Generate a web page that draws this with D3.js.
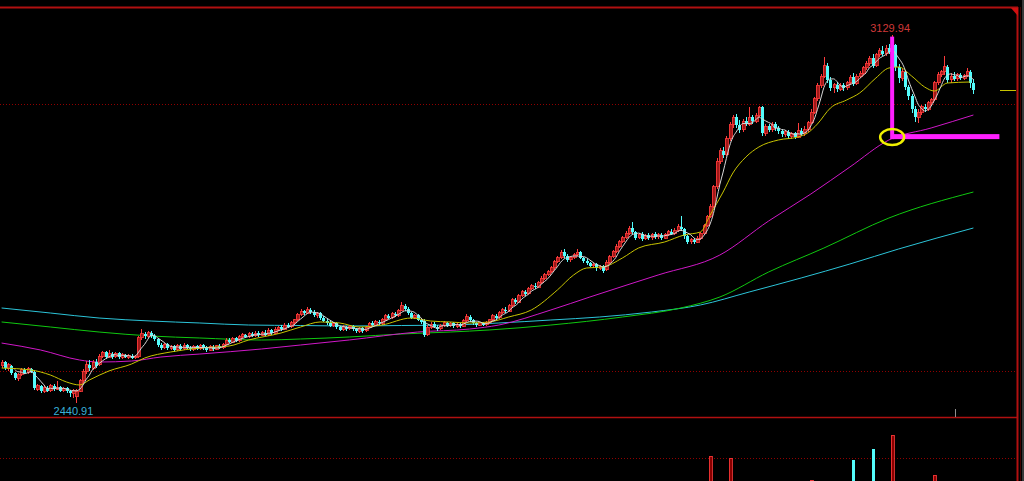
<!DOCTYPE html>
<html><head><meta charset="utf-8">
<script src="https://cdn.jsdelivr.net/npm/d3@7"></script>
<style>html,body{margin:0;padding:0;background:#000;overflow:hidden}</style>
</head><body>
<svg id="c" width="1024" height="481"></svg>
<script>
// ---- data (price units, candle index 0..299) ----
const open = [
2510,2516,2505,2510,2496,2486,2494,2502,2497,2504,
2499,2466,2471,2462,2469,2463,2472,2466,2470,2463,
2468,2462,2458,2452,2462,2482,2500,2512,2505,2516,
2512,2528,2535,2526,2532,2527,2533,2526,2530,2526,
2529,2525,2527,2562,2570,2565,2572,2566,2560,2548,
2544,2550,2543,2546,2540,2547,2542,2548,2544,2541,
2546,2542,2548,2543,2539,2545,2541,2547,2544,2550,
2558,2554,2561,2557,2564,2568,2564,2570,2566,2571,
2567,2572,2568,2576,2571,2578,2582,2578,2586,2583,
2590,2596,2606,2612,2608,2615,2611,2604,2608,2600,
2594,2590,2585,2589,2582,2577,2583,2579,2584,2578,
2574,2580,2575,2582,2589,2586,2592,2589,2597,2603,
2600,2607,2604,2614,2622,2616,2608,2600,2604,2596,
2594,2568,2582,2588,2583,2579,2585,2590,2585,2589,
2584,2588,2584,2594,2602,2596,2589,2586,2590,2587,
2591,2596,2603,2600,2609,2615,2612,2622,2633,2629,
2641,2648,2645,2654,2660,2657,2666,2674,2680,2686,
2693,2705,2712,2722,2716,2708,2713,2718,2722,2712,
2706,2702,2697,2700,2692,2696,2690,2704,2714,2724,
2733,2742,2750,2758,2767,2760,2750,2756,2748,2754,
2750,2756,2751,2755,2749,2756,2761,2757,2763,2770,
2766,2752,2742,2746,2741,2749,2758,2772,2790,2808,
2845,2893,2912,2905,2935,2962,2975,2960,2952,2968,
2962,2975,2968,2978,2994,2945,2958,2952,2962,2955,
2949,2943,2948,2940,2945,2938,2950,2944,2952,2965,
2985,3010,3035,3052,3072,3045,3030,3036,3028,3035,
3030,3040,3050,3038,3052,3058,3068,3076,3086,3072,
3092,3100,3094,3104,3098,3110,3070,3048,3060,3032,
3015,2990,2975,2985,2995,2990,3002,3008,3040,3055,
3060,3070,3045,3052,3047,3055,3048,3053,3060,3040];
const close = [
2516,2505,2512,2496,2486,2494,2502,2497,2504,2499,
2468,2472,2462,2470,2463,2472,2466,2470,2463,2468,
2462,2458,2464,2462,2482,2500,2512,2505,2516,2510,
2528,2535,2526,2532,2527,2533,2526,2530,2526,2529,
2525,2528,2562,2570,2565,2572,2566,2560,2548,2544,
2550,2543,2546,2540,2547,2542,2548,2544,2541,2546,
2542,2548,2543,2539,2545,2541,2547,2544,2550,2558,
2554,2561,2557,2564,2568,2564,2570,2566,2571,2567,
2572,2568,2576,2571,2578,2582,2578,2586,2583,2590,
2596,2606,2612,2608,2615,2611,2604,2608,2600,2594,
2590,2585,2589,2582,2577,2583,2579,2584,2578,2574,
2580,2575,2582,2589,2586,2592,2589,2597,2603,2600,
2607,2604,2614,2622,2616,2608,2600,2604,2596,2592,
2568,2582,2588,2583,2579,2585,2590,2585,2589,2584,
2588,2584,2594,2602,2596,2589,2586,2590,2587,2591,
2596,2603,2600,2609,2615,2612,2622,2633,2629,2641,
2648,2645,2654,2660,2657,2666,2674,2680,2686,2693,
2705,2712,2722,2716,2708,2713,2718,2722,2712,2706,
2702,2697,2700,2692,2696,2688,2704,2714,2724,2733,
2742,2750,2758,2767,2760,2750,2756,2748,2754,2750,
2756,2751,2755,2749,2756,2761,2757,2763,2770,2766,
2752,2742,2746,2741,2749,2758,2772,2790,2808,2845,
2893,2912,2905,2935,2962,2975,2960,2952,2968,2962,
2975,2968,2978,2994,2945,2958,2952,2962,2955,2949,
2943,2948,2940,2945,2938,2950,2944,2952,2965,2985,
3010,3035,3052,3072,3045,3030,3036,3028,3035,3030,
3040,3050,3038,3052,3058,3068,3076,3086,3072,3092,
3100,3094,3104,3098,3110,3070,3048,3060,3032,3015,
2990,2975,2985,2995,2990,3002,3008,3040,3055,3060,
3070,3045,3052,3047,3055,3048,3053,3060,3040,3026];
const high = [
2520,2518,2515,2512,2498,2497,2505,2506,2507,2506,
2501,2476,2474,2473,2472,2475,2476,2482,2472,2470,
2470,2465,2467,2466,2485,2503,2518,2520,2520,2522,
2532,2538,2537,2540,2535,2536,2536,2533,2532,2531,
2531,2530,2565,2578,2573,2575,2574,2570,2562,2552,
2553,2552,2549,2548,2551,2550,2552,2551,2547,2549,
2549,2550,2550,2546,2548,2548,2549,2550,2553,2561,
2562,2564,2564,2567,2571,2570,2573,2573,2574,2574,
2575,2576,2580,2579,2582,2585,2586,2590,2590,2594,
2598,2609,2616,2615,2620,2618,2614,2611,2610,2603,
2597,2593,2592,2591,2585,2586,2585,2587,2586,2581,
2583,2582,2585,2592,2593,2595,2596,2600,2606,2607,
2610,2611,2617,2629,2625,2619,2610,2607,2606,2599,
2597,2586,2592,2592,2586,2588,2593,2592,2591,2591,
2590,2590,2597,2607,2604,2598,2591,2592,2592,2594,
2598,2606,2607,2612,2618,2619,2625,2636,2637,2645,
2651,2652,2657,2663,2664,2669,2677,2684,2690,2697,
2708,2716,2726,2728,2720,2716,2721,2728,2724,2714,
2709,2705,2703,2702,2699,2698,2707,2717,2727,2737,
2746,2753,2762,2771,2779,2763,2759,2760,2757,2758,
2759,2760,2758,2758,2759,2764,2765,2767,2775,2790,
2768,2755,2749,2750,2752,2761,2775,2793,2812,2849,
2898,2918,2920,2940,2966,2980,2982,2970,2972,2975,
2994,2980,2983,2997,2996,2962,2963,2966,2966,2958,
2953,2952,2951,2948,2948,2965,2955,2958,2968,2990,
3014,3040,3056,3088,3076,3050,3040,3042,3040,3040,
3044,3054,3058,3056,3062,3072,3080,3090,3094,3096,
3105,3108,3110,3112,3129.94,3112,3075,3065,3063,3036,
3018,2996,2990,2998,3000,3006,3012,3044,3060,3064,
3090,3073,3058,3060,3058,3058,3056,3068,3063,3046];
const low = [
2506,2502,2500,2492,2483,2482,2490,2494,2495,2496,
2465,2462,2459,2458,2460,2461,2463,2464,2460,2461,
2458,2452,2450,2440.91,2460,2478,2495,2500,2502,2506,
2510,2524,2522,2524,2523,2525,2522,2523,2524,2523,
2522,2522,2525,2558,2560,2562,2562,2556,2545,2540,
2541,2540,2539,2536,2538,2538,2540,2541,2537,2538,
2539,2540,2540,2536,2537,2538,2539,2541,2542,2548,
2552,2552,2554,2555,2561,2561,2562,2563,2564,2564,
2565,2565,2566,2568,2569,2575,2575,2576,2580,2581,
2587,2594,2603,2604,2606,2607,2601,2600,2596,2591,
2586,2582,2583,2578,2574,2575,2575,2576,2574,2571,
2571,2572,2573,2580,2583,2584,2586,2587,2594,2597,
2598,2601,2602,2612,2613,2605,2597,2597,2593,2588,
2563,2566,2578,2580,2575,2577,2582,2582,2583,2581,
2581,2581,2582,2592,2592,2586,2583,2584,2584,2585,
2588,2594,2597,2598,2606,2609,2610,2620,2626,2627,
2638,2641,2643,2651,2653,2655,2663,2671,2677,2683,
2690,2702,2709,2712,2705,2705,2710,2715,2709,2702,
2699,2694,2693,2688,2689,2683,2688,2701,2711,2721,
2730,2739,2747,2755,2756,2746,2747,2744,2745,2746,
2746,2748,2748,2746,2747,2753,2754,2755,2760,2762,
2748,2738,2738,2737,2739,2746,2755,2769,2786,2805,
2840,2888,2898,2902,2930,2955,2955,2946,2948,2958,
2958,2963,2964,2975,2940,2940,2948,2948,2950,2944,
2938,2938,2935,2934,2934,2936,2940,2941,2948,2962,
2982,3006,3030,3048,3040,3024,3020,3022,3024,3025,
3026,3036,3034,3035,3048,3054,3064,3072,3068,3070,
3088,3090,3090,3094,3095,3062,3040,3044,3026,3008,
2984,2966,2965,2980,2985,2987,2998,3005,3036,3050,
3055,3040,3040,3043,3044,3045,3045,3050,3030,3018];

// moving averages: [candle index, value]
const maYellow = [[0,2505.6],[9,2501.9],[15,2492.5],[20,2479.4],[24,2473.8],[27,2483.1],[33,2500],[40,2513.1],[44,2524.3],[52,2535.6],[61,2543.1],[70,2546.8],[76,2558],[86,2571.2],[92,2582.4],[98,2591.8],[104,2589.9],[110,2582.4],[117,2586.1],[126,2599.2],[132,2593.6],[138,2591.8],[144,2589.9],[150,2591.8],[156,2601.1],[163,2614.3],[171,2651.7],[176,2679.8],[180,2692.9],[185,2694.8],[191,2711.6],[196,2730.4],[204,2741.6],[210,2754.7],[215,2760.3],[218,2792.1],[222,2835.2],[225,2870.8],[229,2900.7],[233,2919.5],[239,2932.6],[245,2938.2],[248,2945.7],[251,2962.5],[255,2992.5],[260,3007.5],[264,3020.6],[269,3048.7],[273,3067.4],[276,3069.3],[280,3052.4],[284,3031.8],[287,3024.3],[291,3039.3],[298,3041.2]];
const maMagenta = [[0,2552.4],[12,2539.3],[24,2520.6],[30,2516.8],[40,2518.7],[49,2526.2],[61,2531.8],[80,2541.2],[92,2548.7],[107,2558.1],[128,2573],[144,2578.6],[153,2586.1],[169,2614.3],[181,2638.6],[202,2679.8],[221,2717.2],[236,2780.9],[249,2831.5],[261,2882],[273,2932.6],[286,2955.1],[299,2979.4]];
const maGreen = [[0,2591.8],[15,2582.4],[30,2573],[46,2565.5],[61,2561.8],[80,2558],[92,2559.9],[107,2563.7],[123,2569.3],[138,2573],[150,2576.8],[169,2586.1],[191,2601.1],[209,2618],[221,2638.6],[236,2685.4],[253,2730.3],[273,2786.5],[299,2835.2]];
const maCyan = [[0,2618],[15,2608.6],[30,2599.2],[46,2593.6],[61,2589.9],[76,2586.1],[92,2585.2],[107,2584.3],[123,2585.2],[138,2586.1],[153,2589.9],[169,2595.5],[184,2601.1],[200,2610.5],[215,2623.6],[230,2647.9],[246,2674.2],[261,2700.4],[276,2728.5],[299,2767.8]];

// volume: only the bars tall enough to show in the visible strip
const volIndex = [218,224,249,262,268,274,287];
const volume   = [74,72,50,70,81,95,55];

const priceGrid = [2500, 3000];
const volGrid = [72];
const highLabel = "3129.94", lowLabel = "2440.91";
const highIdx = 274, lowIdx = 23;
const annoPrice = 2938, annoEndIdx = 307;

// ---- scales ----
const svg = d3.select("#c");
const x = d3.scaleLinear().domain([0, 299]).range([1.6, 973.4]);
const y = d3.scaleLinear().domain([2500, 3000]).range([371, 104]);
const yv = d3.scaleLinear().domain([0, 100]).range([530, 430]);
const RED = "#ff3c3c", CYAN = "#54fcfc", FRAME = "#b01010";

svg.append("rect").attr("width",1024).attr("height",481).attr("fill","#000");

// grid dotted lines
svg.selectAll(".pg").data(priceGrid).enter().append("line")
  .attr("x1",0).attr("x2",1016).attr("y1",d=>Math.round(y(d))+0.5).attr("y2",d=>Math.round(y(d))+0.5)
  .attr("stroke","#900000").attr("stroke-dasharray","1,2");
svg.selectAll(".vg").data(volGrid).enter().append("line")
  .attr("x1",0).attr("x2",1016).attr("y1",d=>Math.round(yv(d))+0.5).attr("y2",d=>Math.round(yv(d))+0.5)
  .attr("stroke","#900000").attr("stroke-dasharray","1,2");

// frame
svg.append("line").attr("x1",0).attr("x2",1018).attr("y1",7.5).attr("y2",7.5).attr("stroke",FRAME).attr("stroke-width",2);
svg.append("line").attr("x1",0).attr("x2",1017).attr("y1",417.5).attr("y2",417.5).attr("stroke",FRAME).attr("stroke-width",1.5);
svg.append("line").attr("x1",1017.5).attr("x2",1017.5).attr("y1",7).attr("y2",481).attr("stroke",FRAME).attr("stroke-width",2);
svg.append("line").attr("x1",1020.5).attr("x2",1020.5).attr("y1",7).attr("y2",481).attr("stroke","#400000").attr("stroke-width",1);
svg.append("rect").attr("x",1022).attr("y",0).attr("width",2).attr("height",481).attr("fill","#383838");
svg.append("path").attr("d","M1011,8L1018,8L1018,16Z").attr("fill","#d01010");

// MA lines
const lineGen = d3.line().x(d=>x(d[0])).y(d=>y(d[1])).curve(d3.curveMonotoneX);
const maLayer = svg.append("g").attr("fill","none").attr("stroke-width",1);
maLayer.append("path").datum(maCyan).attr("d",lineGen).attr("stroke","#2cc4d8");
maLayer.append("path").datum(maGreen).attr("d",lineGen).attr("stroke","#10c810");
maLayer.append("path").datum(maMagenta).attr("d",lineGen).attr("stroke","#d018c8");

// candles
const idx = d3.range(close.length);
const cg = svg.append("g").attr("shape-rendering","crispEdges");
cg.selectAll(".w").data(idx).enter().append("line")
  .attr("x1",i=>Math.round(x(i))+0.5).attr("x2",i=>Math.round(x(i))+0.5)
  .attr("y1",i=>y(high[i])).attr("y2",i=>y(low[i]))
  .attr("stroke",i=>close[i]>=open[i]?RED:CYAN);
cg.selectAll(".b").data(idx).enter().append("rect")
  .attr("x",i=>Math.round(x(i))-1)
  .attr("width",3)
  .attr("y",i=>y(Math.max(open[i],close[i])))
  .attr("height",i=>Math.max(1,Math.abs(y(open[i])-y(close[i]))))
  .attr("fill",i=>close[i]>=open[i]?"#a01818":CYAN)
  .attr("stroke",i=>close[i]>=open[i]?RED:"none")
  .attr("stroke-width",i=>close[i]>=open[i]?0.8:0);

// short MA lines on top
const ma5 = idx.filter(i=>i>=4).map(i=>[i, d3.mean(close.slice(i-4,i+1))]);
svg.append("path").datum(maYellow).attr("d",lineGen).attr("fill","none").attr("stroke","#c8c400").attr("stroke-width",1);
svg.append("path").datum(ma5).attr("d",lineGen).attr("fill","none").attr("stroke","#d8d8d8").attr("stroke-width",1);

// volume bars (clipped to volume panel)
svg.append("clipPath").attr("id","vclip").append("rect").attr("x",0).attr("y",418).attr("width",1016).attr("height",63);
svg.append("g").attr("clip-path","url(#vclip)").attr("shape-rendering","crispEdges")
  .selectAll("rect").data(volIndex).enter().append("rect")
  .attr("x",(d)=>Math.round(x(d))-1).attr("width",3)
  .attr("y",(d,k)=>yv(volume[k])).attr("height",(d,k)=>yv(0)-yv(volume[k]))
  .attr("fill",d=>close[d]>=open[d]?"#8a0000":CYAN)
  .attr("stroke",d=>close[d]>=open[d]?RED:"none").attr("stroke-width",0.8);

// time marker tick
svg.append("line").attr("x1",Math.round(x(293))+1.5).attr("x2",Math.round(x(293))+1.5).attr("y1",409).attr("y2",417).attr("stroke","#909090");

// last price marker
svg.append("line").attr("x1",1000).attr("x2",1016).attr("y1",Math.round(y(close[close.length-1]))+0.5).attr("y2",Math.round(y(close[close.length-1]))+0.5).attr("stroke","#c8c400");

// labels
svg.append("text").attr("x",x(highIdx)-2).attr("y",y(high[highIdx])-3).attr("text-anchor","middle")
  .attr("font-family","Liberation Sans, Arial, sans-serif").attr("font-size",11).attr("fill","#d03838").text(highLabel);
svg.append("text").attr("x",x(lowIdx)+17).attr("y",y(low[lowIdx])+12).attr("text-anchor","end")
  .attr("font-family","Liberation Sans, Arial, sans-serif").attr("font-size",11).attr("fill","#38b0d8").text(lowLabel);

// hand-drawn annotation
const ax = x(highIdx), ay = y(annoPrice);
svg.append("rect").attr("x",ax-2).attr("y",y(high[highIdx])+2).attr("width",4).attr("height",ay-y(high[highIdx])).attr("fill","#ff20ff");
svg.append("rect").attr("x",ax).attr("y",ay-3).attr("width",x(annoEndIdx)-ax).attr("height",5).attr("fill","#ff20ff");
svg.append("ellipse").attr("cx",ax).attr("cy",ay).attr("rx",12).attr("ry",8).attr("fill","none").attr("stroke","#f0f000").attr("stroke-width",2.5);
</script>
</body></html>
